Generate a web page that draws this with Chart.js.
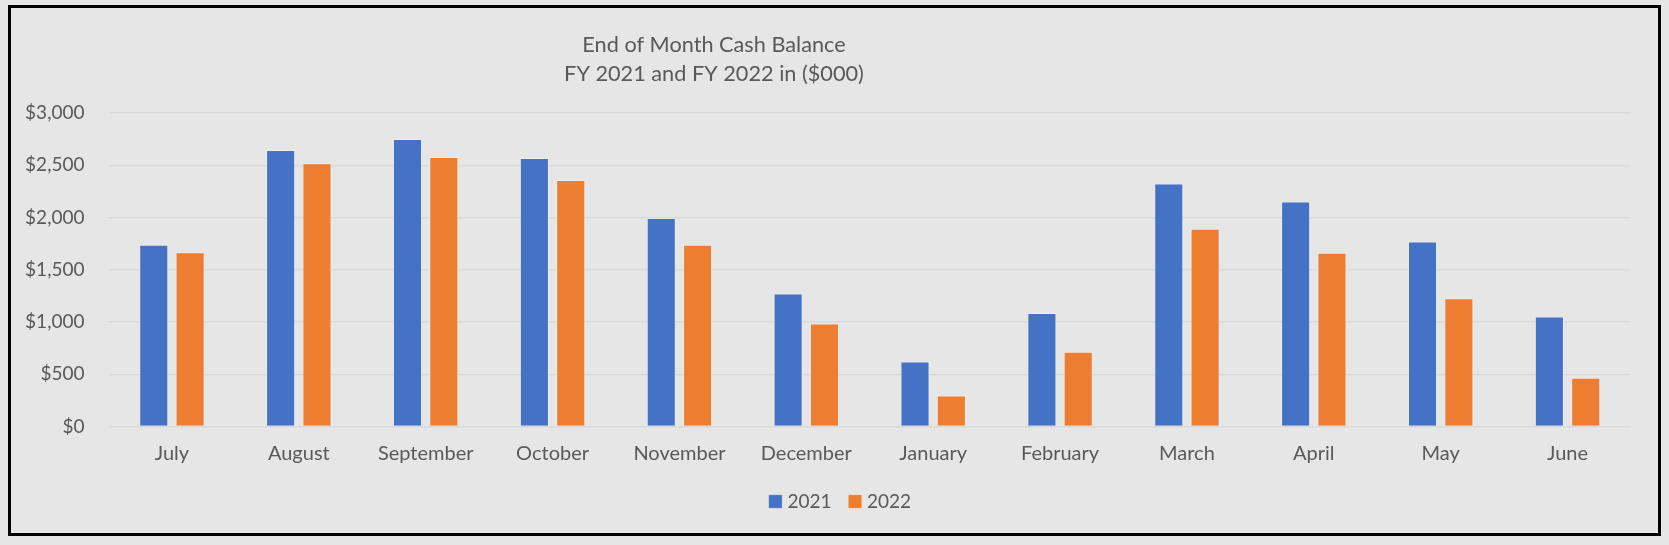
<!DOCTYPE html>
<html>
<head>
<meta charset="utf-8">
<script src="https://cdn.jsdelivr.net/npm/chart.js@4.4.1/dist/chart.umd.min.js"></script>
<style>
  html, body { margin: 0; padding: 0; background: #e7e6e6; }
  #frame {
    position: absolute; left: 8px; top: 5px;
    width: 1653px; height: 531px;
    border: 3px solid #000; box-sizing: border-box;
    background: #e7e6e6;
  }
  #frame canvas { display: block; }
</style>
</head>
<body>
<div id="frame"><canvas id="cashChart" width="1647" height="525"></canvas></div>
<script>
const months = ["July", "August", "September", "October", "November", "December",
                "January", "February", "March", "April", "May", "June"];
const fy2021 = [1740, 2645, 2752, 2570, 1995, 1273, 622, 1087, 2325, 2152, 1770, 1053];
const fy2022 = [1668, 2520, 2580, 2360, 1740, 985, 296, 715, 1893, 1663, 1227, 466];
const titleLines = ["End of Month Cash Balance", "FY 2021 and FY 2022 in ($000)"];

const textColor = '#595959';
const fontFamily = 'Lato, "Open Sans", sans-serif';

// title sits left of centre in the original, so draw it by hand
const titlePlugin = {
  id: 'offsetTitle',
  afterDraw(chart) {
    const c = chart.ctx;
    c.save();
    c.fillStyle = textColor;
    c.font = '21.7px ' + fontFamily;
    c.textAlign = 'center';
    c.textBaseline = 'middle';
    titleLines.forEach((t, i) => c.fillText(t, 703, 37 + i * 29.5));
    c.restore();
  }
};

// legend is a little right of the canvas centre in the original
const legendShift = {
  id: 'legendShift',
  afterLayout(chart) {
    chart.legend.left += 21;
    chart.legend.right += 21;
  }
};

const ctx = document.getElementById('cashChart');
new Chart(ctx, {
  type: 'bar',
  data: {
    labels: months,
    datasets: [{
      label: '2021',
      data: fy2021,
      backgroundColor: '#4472C4',
      borderColor: 'rgba(255,255,255,0.3)',
      borderWidth: 1
    }, {
      label: '2022',
      data: fy2022,
      backgroundColor: '#ED7D31',
      borderColor: 'rgba(255,255,255,0.3)',
      borderWidth: 1
    }]
  },
  options: {
    responsive: false,
    animation: false,
    categoryPercentage: 0.573,
    barPercentage: 0.8,
    layout: { padding: { top: 105, right: 27, bottom: 12, left: 0 } },
    scales: {
      y: {
        min: 0,
        max: 3000,
        ticks: {
          stepSize: 500,
          padding: 24,
          color: textColor,
          font: { family: fontFamily, size: 19 },
          callback: v => '$' + v.toLocaleString('en-US')
        },
        grid: { color: '#d9d9d9', lineWidth: 1.5, drawTicks: false },
        border: { display: false },
        afterFit: s => { s.width = 97.5; }
      },
      x: {
        ticks: {
          padding: 15,
          color: textColor,
          font: { family: fontFamily, size: 20 }
        },
        grid: { display: false, drawTicks: false },
        border: { display: false },
        afterFit: s => { s.height = 44.5; }
      }
    },
    plugins: {
      legend: {
        position: 'bottom',
        labels: {
          usePointStyle: true,
          pointStyle: 'rect',
          boxWidth: 5,
          boxHeight: 13.5,
          padding: 21,
          color: textColor,
          font: { family: fontFamily, size: 19 }
        }
      },
      title: { display: false },
      tooltip: { enabled: false }
    }
  },
  plugins: [titlePlugin, legendShift]
});
</script>
</body>
</html>
